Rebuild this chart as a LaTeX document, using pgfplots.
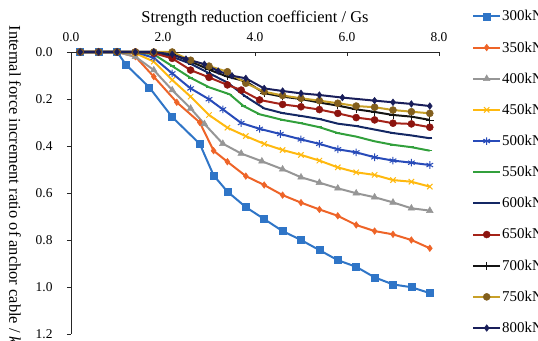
\documentclass[border=0pt]{standalone}
\usepackage{pgfplots}
\pgfplotsset{compat=1.18}
\usepackage{fontspec}
\setmainfont{Liberation Serif}
\definecolor{cA}{RGB}{47,117,199}
\definecolor{cB}{RGB}{238,100,40}
\definecolor{cC}{RGB}{150,150,150}
\definecolor{cD}{RGB}{255,185,15}
\definecolor{cE}{RGB}{40,75,185}
\definecolor{cF}{RGB}{50,160,60}
\definecolor{cG}{RGB}{20,40,100}
\definecolor{cH}{RGB}{165,35,25}
\definecolor{cHm}{RGB}{140,20,15}
\definecolor{cI}{RGB}{20,20,20}
\definecolor{cJ}{RGB}{200,160,40}
\definecolor{cJm}{RGB}{130,95,30}
\definecolor{cK}{RGB}{25,30,90}
\begin{document}
\begin{tikzpicture}
\useasboundingbox (0,0) rectangle (538bp,341bp);
\begin{axis}[
  at={(71bp,7bp)}, anchor=south west,
  scale only axis, width=368bp, height=282bp,
  xmin=0, xmax=8, ymin=0, ymax=1.2, y dir=reverse,
  axis x line*=top, axis y line*=left,
  axis line style={line width=0.9bp, black!85},
  clip=false,
  xtick={0,2,4,6,8}, ytick={0,0.2,0.4,0.6,0.8,1.0,1.2},
  major tick length=4bp,
  tick style={line width=0.9bp, black!85},
  ytick style={xshift=-4bp},
  /pgf/number format/assume math mode=true,
  /pgf/number format/.cd, fixed, fixed zerofill, precision=1, /pgfplots/.cd,
  ticklabel style={font=\fontsize{13.5}{13.5}\selectfont},
  xticklabel style={yshift=7bp},
  yticklabel style={xshift=-15bp},
  xlabel={Strength reduction coefficient / Gs},
  xlabel style={at={(axis description cs:0.5,1.12)}, anchor=center, font=\fontsize{16.5}{16.5}\selectfont},
  ylabel={Internal force increment ratio of anchor cable / \textit{k}},
  ylabel style={at={(axis description cs:-0.152,1.106)}, rotate=180, anchor=west, font=\fontsize{16.5}{16.5}\selectfont},
  every axis plot/.append style={line width=2bp},
  legend style={at={(axis description cs:1.0897,1.148)}, anchor=north west, draw=none, fill=none,
    font=\fontsize{15}{15}\selectfont, inner sep=0pt, row sep=19.3bp, column sep=1bp,
    nodes={inner sep=0pt, anchor=west}},
  legend cell align=left,
  legend image code/.code={\draw[mark repeat=2,mark phase=2,#1] plot coordinates {(0bp,0bp) (13.5bp,0bp) (27bp,0bp)};},
]
\addplot[color=cA, mark=square*, mark size=3.5bp, mark options={fill=cA, line width=0.5bp}] coordinates {
(0.2,0)(0.6,0)(1.0,0)(1.2,0.055)(1.7,0.15)(2.2,0.277)(2.8,0.391)(3.1,0.525)(3.4,0.594)(3.8,0.66)(4.2,0.711)(4.6,0.762)(5.0,0.800)(5.4,0.843)(5.8,0.886)(6.2,0.914)(6.6,0.959)(7.0,0.989)(7.4,1.001)(7.8,1.026)};
\addlegendentry{300kN}
\addplot[color=cB, mark=diamond*, mark size=3.3bp, mark options={fill=cB, line width=0.5bp}] coordinates {
(0.2,0)(0.6,0)(1.0,0)(1.4,0.02)(1.8,0.105)(2.3,0.214)(2.8,0.30)(3.1,0.42)(3.4,0.467)(3.8,0.528)(4.2,0.566)(4.6,0.609)(5.0,0.641)(5.4,0.670)(5.8,0.697)(6.2,0.736)(6.6,0.762)(7.0,0.776)(7.4,0.80)(7.8,0.835)};
\addlegendentry{350kN}
\addplot[color=cC, mark=triangle*, mark size=3.8bp, mark options={fill=cC, line width=0.5bp}] coordinates {
(0.2,0)(0.6,0)(1.0,0)(1.4,0.02)(1.8,0.077)(2.2,0.162)(2.6,0.24)(2.9,0.306)(3.3,0.39)(3.7,0.432)(4.15,0.465)(4.6,0.499)(5.0,0.533)(5.4,0.556)(5.8,0.58)(6.2,0.601)(6.6,0.618)(7.0,0.64)(7.4,0.665)(7.8,0.675)};
\addlegendentry{400kN}
\addplot[color=cD, mark=x, mark size=3.8bp, mark options={line width=1bp}] coordinates {
(0.2,0)(0.6,0)(1.0,0)(1.4,0.005)(1.8,0.041)(2.2,0.119)(2.6,0.19)(3.0,0.268)(3.4,0.322)(3.8,0.358)(4.2,0.391)(4.6,0.417)(5.0,0.438)(5.4,0.462)(5.8,0.491)(6.2,0.512)(6.6,0.523)(7.0,0.545)(7.4,0.552)(7.8,0.573)};
\addlegendentry{450kN}
\addplot[color=cE, mark=asterisk, mark size=3.8bp, mark options={line width=1bp}] coordinates {
(0.2,0)(0.6,0)(1.0,0)(1.4,0)(1.8,0.025)(2.2,0.091)(2.6,0.155)(3.0,0.201)(3.3,0.244)(3.7,0.302)(4.1,0.327)(4.55,0.349)(5.0,0.372)(5.4,0.391)(5.8,0.414)(6.2,0.427)(6.6,0.448)(7.0,0.462)(7.4,0.471)(7.8,0.481)};
\addlegendentry{500kN}
\addplot[color=cF, mark=-, mark size=2.5bp, mark options={line width=1.5bp}] coordinates {
(0.2,0)(0.6,0)(1.0,0)(1.4,0)(1.8,0.01)(2.2,0.06)(2.6,0.11)(3.0,0.15)(3.45,0.18)(3.75,0.23)(4.1,0.265)(4.6,0.289)(5.0,0.303)(5.4,0.32)(5.8,0.345)(6.2,0.36)(6.6,0.38)(7.0,0.395)(7.4,0.405)(7.8,0.42)};
\addlegendentry{550kN}
\addplot[color=cG, mark=-, mark size=2.5bp, mark options={line width=1.5bp}] coordinates {
(0.2,0)(0.6,0)(1.0,0)(1.4,0)(1.8,0)(2.2,0.02)(2.6,0.05)(3.0,0.09)(3.4,0.13)(3.8,0.19)(4.2,0.24)(4.6,0.26)(5.0,0.272)(5.4,0.285)(5.8,0.305)(6.2,0.315)(6.6,0.33)(7.0,0.345)(7.4,0.355)(7.8,0.367)};
\addlegendentry{600kN}
\addplot[color=cH, mark=*, mark size=3.5bp, mark options={fill=cHm, draw=cHm, line width=0.5bp}] coordinates {
(0.2,0)(0.6,0)(1.0,0)(1.4,0)(1.8,0.005)(2.2,0.027)(2.6,0.077)(3.0,0.108)(3.4,0.14)(3.7,0.162)(4.1,0.204)(4.6,0.223)(5.0,0.233)(5.4,0.245)(5.8,0.261)(6.2,0.279)(6.6,0.289)(7.0,0.303)(7.4,0.306)(7.8,0.32)};
\addlegendentry{650kN}
\addplot[color=cI, mark=+, mark size=3.8bp, mark options={line width=0.8bp}] coordinates {
(0.2,0)(0.6,0)(1.0,0)(1.4,0)(1.8,0)(2.2,0.01)(2.6,0.04)(3.0,0.075)(3.4,0.105)(3.8,0.125)(4.2,0.175)(4.6,0.19)(5.0,0.2)(5.4,0.215)(5.8,0.228)(6.2,0.244)(6.6,0.255)(7.0,0.268)(7.4,0.275)(7.8,0.289)};
\addlegendentry{700kN}
\addplot[color=cJ, mark=*, mark size=3.5bp, mark options={fill=cJm, draw=cJm, line width=0.5bp}] coordinates {
(0.2,0)(0.6,0)(1.0,0)(1.4,0)(1.8,0)(2.2,0)(2.6,0.035)(3.0,0.06)(3.4,0.084)(3.8,0.133)(4.2,0.169)(4.6,0.185)(5.0,0.197)(5.4,0.207)(5.8,0.218)(6.2,0.23)(6.6,0.235)(7.0,0.247)(7.4,0.254)(7.8,0.261)};
\addlegendentry{750kN}
\addplot[color=cK, mark=diamond*, mark size=3.3bp, mark options={fill=cK, line width=0.5bp}] coordinates {
(0.2,0)(0.6,0)(1.0,0)(1.4,0)(1.8,0)(2.2,0.01)(2.5,0.03)(2.9,0.052)(3.2,0.081)(3.5,0.101)(3.8,0.112)(4.2,0.155)(4.6,0.166)(5.0,0.176)(5.4,0.183)(5.9,0.194)(6.6,0.207)(7.0,0.214)(7.4,0.221)(7.8,0.23)};
\addlegendentry{800kN}
\end{axis}
\end{tikzpicture}
\end{document}
